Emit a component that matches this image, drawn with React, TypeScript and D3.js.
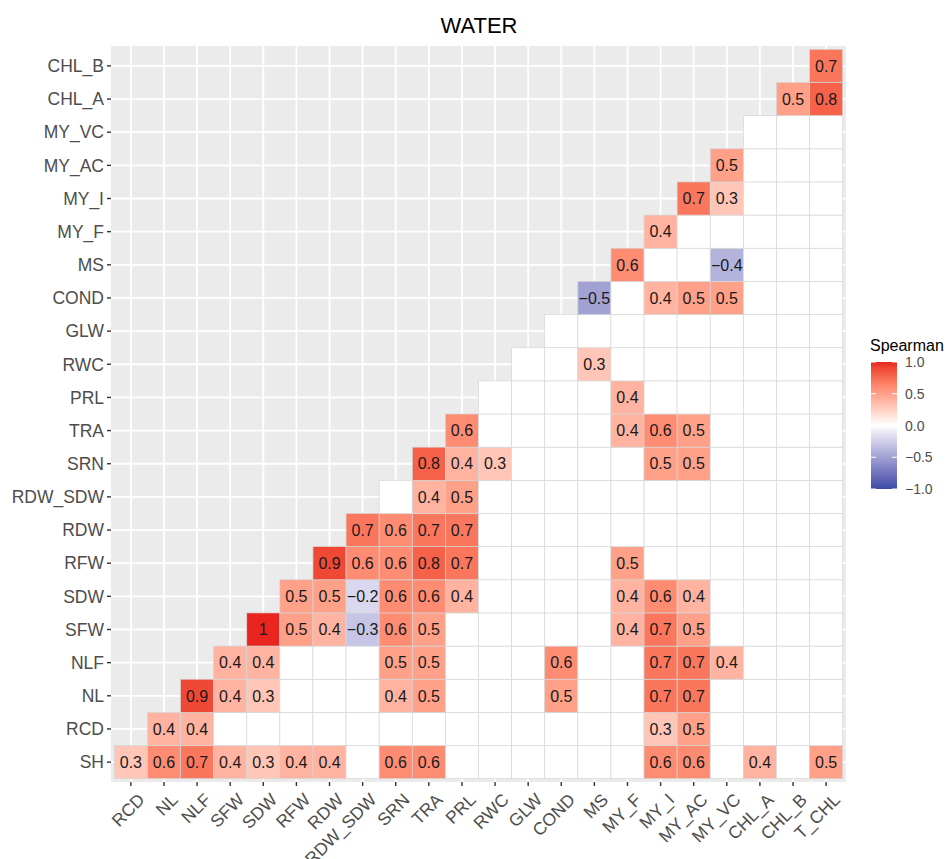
import React from "react";
import * as d3 from "d3";

const title = "WATER";
const legendTitle = "Spearman";
const xVars = ["RCD","NL","NLF","SFW","SDW","RFW","RDW","RDW_SDW","SRN","TRA","PRL","RWC","GLW","COND","MS","MY_F","MY_I","MY_AC","MY_VC","CHL_A","CHL_B","T_CHL"];
const yVars = ["SH","RCD","NL","NLF","SFW","SDW","RFW","RDW","RDW_SDW","SRN","TRA","PRL","RWC","GLW","COND","MS","MY_F","MY_I","MY_AC","MY_VC","CHL_A","CHL_B"];

// each row starts at the column with the same index as the row (lower triangle); 0 = not significant (blank)
const rowSH = [0.3,0.6,0.7,0.4,0.3,0.4,0.4,0,0.6,0.6,0,0,0,0,0,0,0.6,0.6,0,0.4,0,0.5];
const rowRCD = [0.4,0.4,0,0,0,0,0,0,0,0,0,0,0,0,0,0.3,0.5,0,0,0,0];
const rowNL = [0.9,0.4,0.3,0,0,0,0.4,0.5,0,0,0,0.5,0,0,0.7,0.7,0,0,0,0];
const rowNLF = [0.4,0.4,0,0,0,0.5,0.5,0,0,0,0.6,0,0,0.7,0.7,0.4,0,0,0];
const rowSFW = [1,0.5,0.4,-0.3,0.6,0.5,0,0,0,0,0,0.4,0.7,0.5,0,0,0,0];
const rowSDW = [0.5,0.5,-0.2,0.6,0.6,0.4,0,0,0,0,0.4,0.6,0.4,0,0,0,0];
const rowRFW = [0.9,0.6,0.6,0.8,0.7,0,0,0,0,0.5,0,0,0,0,0,0];
const rowRDW = [0.7,0.6,0.7,0.7,0,0,0,0,0,0,0,0,0,0,0];
const rowRDW_SDW = [0,0.4,0.5,0,0,0,0,0,0,0,0,0,0,0];
const rowSRN = [0.8,0.4,0.3,0,0,0,0,0.5,0.5,0,0,0,0];
const rowTRA = [0.6,0,0,0,0,0.4,0.6,0.5,0,0,0,0];
const rowPRL = [0,0,0,0,0.4,0,0,0,0,0,0];
const rowRWC = [0,0,0.3,0,0,0,0,0,0,0];
const rowGLW = [0,0,0,0,0,0,0,0,0];
const rowCOND = [-0.5,0,0.4,0.5,0.5,0,0,0];
const rowMS = [0.6,0,0,-0.4,0,0,0];
const rowMY_F = [0.4,0,0,0,0,0];
const rowMY_I = [0.7,0.3,0,0,0];
const rowMY_AC = [0.5,0,0,0];
const rowMY_VC = [0,0,0];
const rowCHL_A = [0.5,0.8];
const rowCHL_B = [0.7];

const legendTicks = [1.0, 0.5, 0.0, -0.5, -1.0];

const rows = [rowSH,rowRCD,rowNL,rowNLF,rowSFW,rowSDW,rowRFW,rowRDW,rowRDW_SDW,rowSRN,rowTRA,rowPRL,rowRWC,rowGLW,rowCOND,rowMS,rowMY_F,rowMY_I,rowMY_AC,rowMY_VC,rowCHL_A,rowCHL_B];

const W = 947, H = 859;
const panel = { left: 111, right: 846, top: 46, bottom: 782 };
const font = "'Liberation Sans', Arial, sans-serif";

export default function App() {
  const x = d3.scaleBand<string>().domain(xVars).range([panel.left, panel.right]).paddingInner(0).paddingOuter(0.1);
  const y = d3.scaleBand<string>().domain(yVars).range([panel.bottom, panel.top]).paddingInner(0).paddingOuter(0.1);
  const bw = x.bandwidth();
  const bh = y.bandwidth();
  const lowC = "#3C4CA6", midC = "#FFFFFF", highC = "#E8261F";
  const color = (v: number) =>
    v < 0 ? d3.interpolateLab(midC, lowC)(-v) : d3.interpolateLab(midC, highC)(v);

  const cells: { xi: number; yi: number; v: number }[] = [];
  rows.forEach((r, j) => r.forEach((v, k) => cells.push({ xi: j + k, yi: j, v })));

  const legY = d3.scaleLinear().domain([-1, 1]).range([489, 362]);
  const stops = d3.range(0, 21).map((i) => -1 + i * 0.1);

  return (
    <svg width={W} height={H} style={{ position: "absolute", left: 0, top: 0, background: "#fff" }} fontFamily={font}>
      <defs>
        <linearGradient id="lg" x1="0" y1="1" x2="0" y2="0">
          {stops.map((s, i) => (
            <stop key={i} offset={(s + 1) / 2} stopColor={color(s)} />
          ))}
        </linearGradient>
      </defs>
      <text x={479} y={33} textAnchor="middle" fontSize={22} fill="#000">{title}</text>
      <rect x={panel.left} y={panel.top} width={panel.right - panel.left} height={panel.bottom - panel.top} fill="#EBEBEB" />
      {xVars.map((v) => (
        <line key={"gx" + v} x1={x(v)! + bw / 2} x2={x(v)! + bw / 2} y1={panel.top} y2={panel.bottom} stroke="#fff" strokeWidth={1.8} />
      ))}
      {yVars.map((v) => (
        <line key={"gy" + v} y1={y(v)! + bh / 2} y2={y(v)! + bh / 2} x1={panel.left} x2={panel.right} stroke="#fff" strokeWidth={1.8} />
      ))}
      {cells.map((c, i) => (
        <rect key={"c" + i} x={x(xVars[c.xi])!} y={y(yVars[c.yi])!} width={bw} height={bh}
          fill={color(c.v)} stroke="#D6D6D6" strokeWidth={0.7} />
      ))}
      {cells.filter((c) => c.v !== 0).map((c, i) => (
        <text key={"t" + i} x={x(xVars[c.xi])! + bw / 2} y={y(yVars[c.yi])! + bh / 2} dy="0.36em"
          textAnchor="middle" fontSize={16} fill="#1a1a1a">
          {String(c.v).replace("-", "\u2212")}
        </text>
      ))}
      {yVars.map((v) => (
        <g key={"ya" + v}>
          <line x1={panel.left - 4} x2={panel.left} y1={y(v)! + bh / 2} y2={y(v)! + bh / 2} stroke="#333" strokeWidth={1.4} />
          <text x={panel.left - 7} y={y(v)! + bh / 2} dy="0.36em" textAnchor="end" fontSize={17.5} fill="#4D4D4D">{v}</text>
        </g>
      ))}
      {xVars.map((v) => {
        const cx = x(v)! + bw / 2;
        return (
          <g key={"xa" + v}>
            <line x1={cx} x2={cx} y1={panel.bottom} y2={panel.bottom + 4} stroke="#333" strokeWidth={1.4} />
            <text transform={`translate(${cx + 6},${panel.bottom + 10}) rotate(-45)`} textAnchor="end" dy="0.72em"
              fontSize={17.5} fill="#4D4D4D">{v}</text>
          </g>
        );
      })}
      <text x={870} y={351} fontSize={16} fill="#000">{legendTitle}</text>
      <rect x={871} y={362} width={26} height={127} fill="url(#lg)" />
      {legendTicks.map((t) => (
        <g key={"lt" + t}>
          <line x1={871} x2={876} y1={legY(t)} y2={legY(t)} stroke="#fff" strokeWidth={1} />
          <line x1={892} x2={897} y1={legY(t)} y2={legY(t)} stroke="#fff" strokeWidth={1} />
          <text x={905} y={legY(t)} dy="0.36em" fontSize={14} fill="#4D4D4D">{d3.format(".1f")(t).replace("-", "\u2212")}</text>
        </g>
      ))}
    </svg>
  );
}
